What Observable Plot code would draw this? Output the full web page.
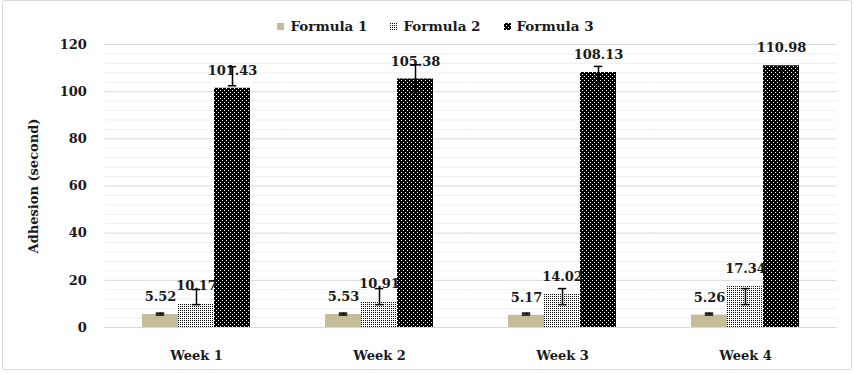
<!DOCTYPE html>
<html><head><meta charset="utf-8">
<script src="https://cdn.jsdelivr.net/npm/d3@7"></script>
<script src="https://cdn.jsdelivr.net/npm/@observablehq/plot@0.6"></script>
<style>
body{margin:0;background:#fff;font-family:"DejaVu Serif",serif;}
#frame{position:absolute;left:2px;top:0;width:848px;height:368px;border:1.5px solid #d9d9d9;border-radius:3px;pointer-events:none;}
#legend{box-sizing:border-box;height:36px;padding-top:16px;display:flex;align-items:center;justify-content:center;padding-left:17px;font-weight:bold;font-size:13.5px;color:#1a1a1a;line-height:20px;}
#legend .item{display:flex;align-items:center;margin-right:23px;}
#legend .item:last-child{margin-right:0;}
#legend svg{margin-right:6px;}
#chart svg{display:block;overflow:visible;}
</style>
</head><body>
<svg width="0" height="0" style="position:absolute">
  <defs>
    <pattern id="pat2" width="2" height="2" patternUnits="userSpaceOnUse">
      <rect width="2" height="2" fill="#fff"/>
      <rect width="1" height="1" fill="#000"/>
    </pattern>
    <pattern id="pat3" width="4" height="4" patternUnits="userSpaceOnUse">
      <rect width="4" height="4" fill="#000"/>
      <rect x="0" y="0" width="1" height="1" fill="#fff"/>
      <rect x="2" y="2" width="1" height="1" fill="#fff"/>
    </pattern>
  </defs>
</svg>
<div id="frame"></div>
<div id="legend"></div>
<div id="chart"></div>
<script>
const weeks = ["Week 1", "Week 2", "Week 3", "Week 4"];
const formulas = ["Formula 1", "Formula 2", "Formula 3"];
const formula1 = [5.52, 5.53, 5.17, 5.26];
const formula2 = [10.17, 10.91, 14.02, 17.34];
const formula3 = [101.43, 105.38, 108.13, 110.98];
const errLow1 = [5.3, 5.3, 5.3, 5.3];
const errHigh1 = [6.1, 6.1, 6.1, 6.1];
const errLow2 = [9.7, 9.7, 9.7, 9.7];
const errHigh2 = [16.1, 16.5, 16.5, 16.5];
const errLow3 = [102.5, 99.4, 103.4, 103.4];
const errHigh3 = [110.6, 111.4, 110.7, 110.3];
const yTicks = [0, 20, 40, 60, 80, 100, 120];
const minorTicks = d3.range(0, 121, 4);
const fills = ["#c4bd97", "url(#pat2)", "url(#pat3)"];

const values = [formula1, formula2, formula3];
const lows = [errLow1, errLow2, errLow3];
const highs = [errHigh1, errHigh2, errHigh3];
const rows = weeks.flatMap((w, i) => formulas.map((f, j) => ({
  week: w, formula: f, value: values[j][i], lo: lows[j][i], hi: highs[j][i]
})));

// legend
const legend = document.getElementById("legend");
formulas.forEach((f, j) => {
  const item = document.createElement("div");
  item.className = "item";
  item.innerHTML = `<svg width="7" height="7"><rect width="7" height="7" fill="${fills[j]}"/></svg><span>${f}</span>`;
  legend.appendChild(item);
});

// gridlines span the whole category step (band + surrounding gaps)
const gridInset = -36.7;
const chart = Plot.plot({
  width: 854,
  height: 337,
  marginLeft: 103,
  marginRight: 17,
  marginTop: 8,
  marginBottom: 46,
  style: {fontFamily: "DejaVu Serif", fontSize: "13px", fontWeight: "bold", color: "#1a1a1a", background: "transparent"},
  fx: {domain: weeks, paddingInner: 0.4, paddingOuter: 0.2, label: null},
  x: {domain: formulas, padding: 0, axis: null},
  y: {domain: [0, 120]},
  color: {domain: formulas, range: fills},
  marks: [
    Plot.ruleY(minorTicks.filter(d => d % 20 !== 0), {stroke: "#efefef", strokeWidth: 1, insetLeft: gridInset, insetRight: gridInset}),
    Plot.ruleY(yTicks, {stroke: "#d9d9d9", strokeWidth: 1, insetLeft: gridInset, insetRight: gridInset}),
    Plot.axisY({ticks: yTicks, tickSize: 0, tickPadding: 54.7, fontSize: 13, label: "Adhesion (second)", labelAnchor: "center", labelArrow: "none", labelOffset: 113, tickFormat: d => String(d)}),
    Plot.axisFx({anchor: "bottom", tickSize: 0, tickPadding: 23, fontSize: 13, label: null}),
    Plot.barY(rows, {fx: "week", x: "formula", y: "value", fill: "formula"}),
    Plot.text(rows, {fx: "week", x: "formula", y: "value", text: d => d.value.toFixed(2), dy: -17.5, fontSize: 13, fontWeight: "bold", fill: "#1a1a1a"}),
    Plot.ruleX(rows, {fx: "week", x: "formula", y1: "lo", y2: "hi", stroke: "#000", strokeWidth: 1.5}),
    Plot.tickY(rows, {fx: "week", x: "formula", y: "lo", stroke: "#000", strokeWidth: 1.5, insetLeft: 13.8, insetRight: 13.8}),
    Plot.tickY(rows, {fx: "week", x: "formula", y: "hi", stroke: "#000", strokeWidth: 1.5, insetLeft: 13.8, insetRight: 13.8})
  ]
});
document.getElementById("chart").appendChild(chart);
</script>
</body></html>
